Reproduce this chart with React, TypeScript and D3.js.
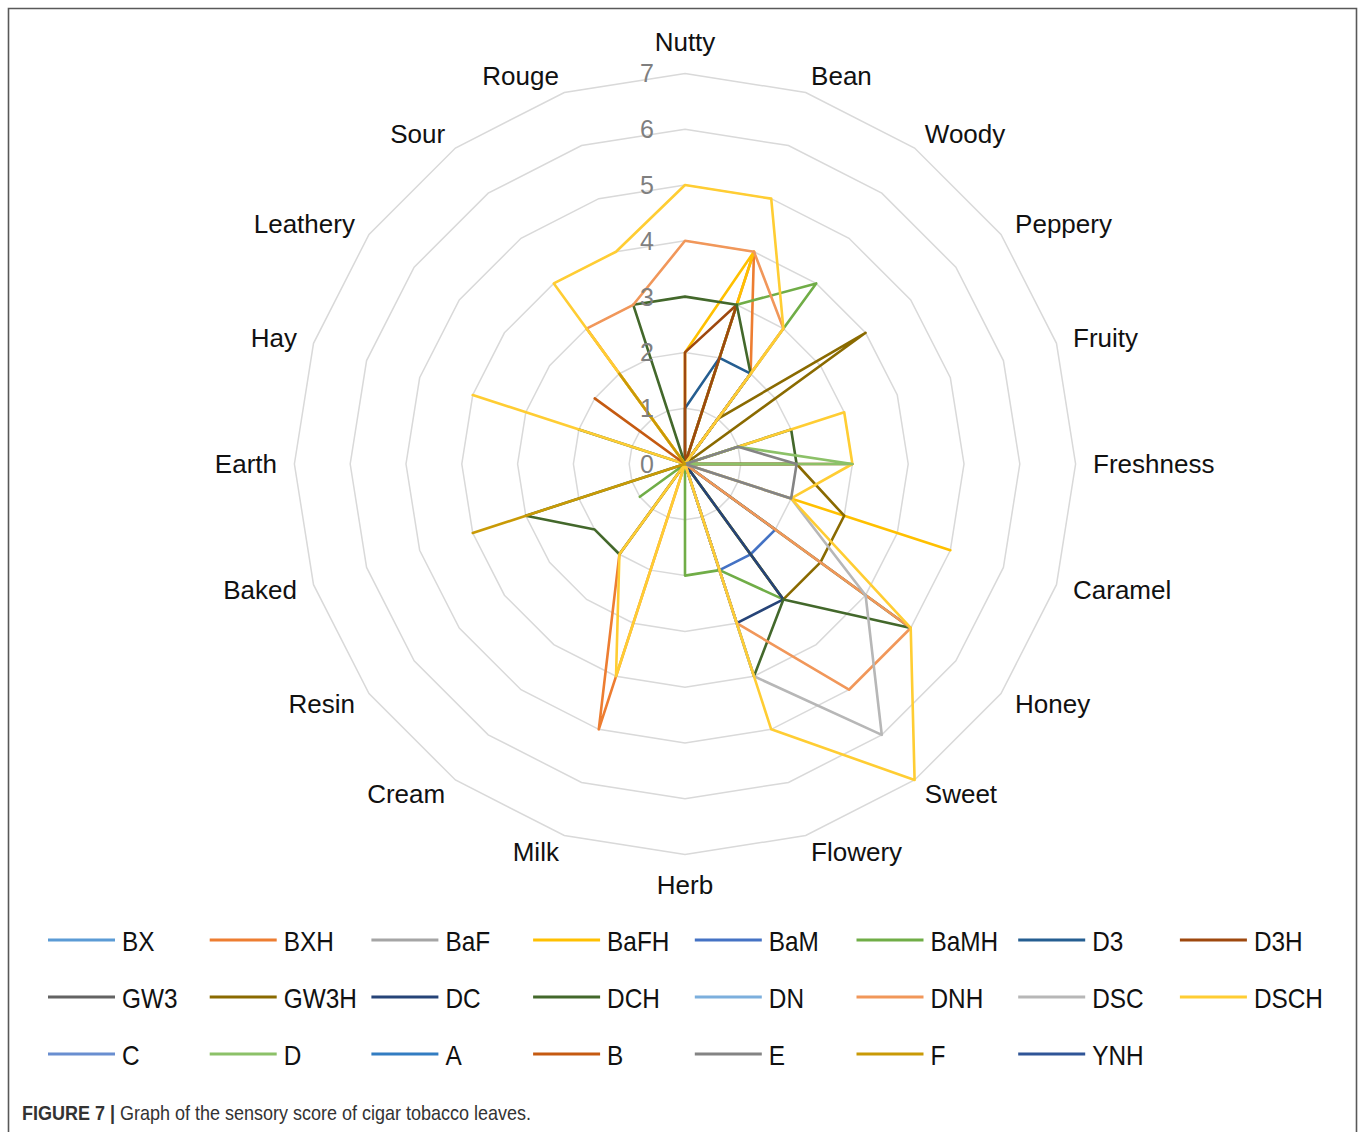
import React from 'react';
import * as d3 from 'd3';

const axes = ['Nutty', 'Bean', 'Woody', 'Peppery', 'Fruity', 'Freshness', 'Caramel', 'Honey', 'Sweet', 'Flowery', 'Herb', 'Milk', 'Cream', 'Resin', 'Baked', 'Earth', 'Hay', 'Leathery', 'Sour', 'Rouge'];
const ticks = [0, 1, 2, 3, 4, 5, 6, 7];

// Values per series, in axis order above
const BX = [0, 0, 0, 0, 0, 0, 0, 0, 0, 0, 0, 0, 0, 0, 0, 0, 0, 0, 0, 0];
const BXH = [0, 4, 2, 0, 0, 0, 0, 0, 0, 0, 0, 5, 2, 0, 0, 0, 0, 0, 0, 0];
const BaF = [0, 0, 0, 0, 0, 0, 0, 0, 0, 0, 0, 0, 0, 0, 0, 0, 0, 0, 0, 0];
const BaFH = [2, 4, 0, 0, 0, 0, 5, 0, 0, 0, 0, 0, 0, 0, 0, 0, 0, 0, 3, 0];
const BaM = [0, 0, 0, 0, 0, 0, 0, 2, 2, 2, 0, 0, 0, 0, 0, 0, 0, 0, 0, 0];
const BaMH = [0, 3, 4, 0, 0, 0, 0, 0, 3, 2, 2, 0, 0, 1, 0, 0, 0, 0, 0, 0];
const D3 = [1, 2, 2, 0, 0, 0, 0, 0, 0, 0, 0, 0, 0, 0, 0, 0, 0, 0, 0, 0];
const D3H = [2, 3, 0, 0, 0, 3, 0, 0, 0, 0, 0, 0, 0, 0, 0, 0, 0, 0, 0, 0];
const GW3 = [0, 0, 0, 0, 0, 0, 0, 0, 0, 0, 0, 0, 0, 0, 0, 0, 0, 0, 0, 0];
const GW3H = [0, 0, 1, 4, 0, 2, 3, 3, 3, 0, 0, 0, 0, 0, 0, 0, 0, 0, 0, 0];
const DC = [0, 0, 0, 0, 0, 0, 0, 0, 3, 3, 0, 0, 0, 0, 0, 0, 0, 0, 0, 0];
const DCH = [3, 3, 2, 0, 2, 2, 0, 5, 3, 4, 0, 0, 2, 2, 3, 0, 2, 0, 0, 3];
const DN = [0, 0, 0, 0, 0, 0, 0, 0, 0, 0, 0, 0, 0, 0, 0, 0, 0, 0, 0, 0];
const DNH = [4, 4, 3, 0, 0, 0, 0, 5, 5, 3, 0, 0, 0, 0, 0, 0, 0, 0, 3, 3];
const DSC = [0, 0, 0, 0, 0, 0, 2, 4, 6, 4, 0, 0, 0, 0, 0, 0, 0, 0, 0, 0];
const DSCH = [5, 5, 3, 0, 3, 3, 2, 5, 7, 5, 0, 4, 2, 0, 0, 0, 4, 0, 4, 4];
const C = [0, 0, 0, 0, 0, 0, 0, 0, 0, 0, 0, 0, 0, 0, 0, 0, 0, 0, 0, 0];
const D = [0, 0, 0, 0, 1, 3, 0, 0, 0, 0, 0, 0, 0, 0, 0, 0, 0, 0, 0, 0];
const A = [0, 0, 0, 0, 0, 0, 0, 0, 0, 0, 0, 0, 0, 0, 0, 0, 0, 0, 0, 0];
const B = [0, 0, 0, 0, 0, 0, 0, 0, 0, 0, 0, 0, 0, 0, 0, 0, 0, 2, 0, 0];
const E = [0, 0, 0, 0, 1, 2, 2, 0, 0, 0, 0, 0, 0, 0, 0, 0, 0, 0, 0, 0];
const F = [0, 0, 0, 0, 0, 0, 0, 0, 0, 0, 0, 0, 0, 0, 4, 0, 0, 0, 2, 0];
const YNH = [0, 0, 0, 0, 0, 0, 0, 0, 0, 0, 0, 0, 0, 0, 0, 0, 0, 0, 0, 0];

const seriesNames = ['BX', 'BXH', 'BaF', 'BaFH', 'BaM', 'BaMH', 'D3', 'D3H', 'GW3', 'GW3H', 'DC', 'DCH', 'DN', 'DNH', 'DSC', 'DSCH', 'C', 'D', 'A', 'B', 'E', 'F', 'YNH'];
const seriesValues = [BX, BXH, BaF, BaFH, BaM, BaMH, D3, D3H, GW3, GW3H, DC, DCH, DN, DNH, DSC, DSCH, C, D, A, B, E, F, YNH];
const seriesColors = ['#5B9BD5', '#ED7D31', '#A5A5A5', '#FFC000', '#4472C4', '#70AD47', '#255E91', '#9E480E', '#636363', '#8A6A00', '#264478', '#43682B', '#7CAFDD', '#F1975A', '#B7B7B7', '#FFCD33', '#698ED0', '#8CC168', '#327DC2', '#C55A11', '#848484', '#C99A06', '#2F5597'];

const W = 1360;
const H = 1132;
const cx = 685;
const cy = 464;
const R = 390.6;
const LABEL_R = 408;

export default function App() {
  const r = d3.scaleLinear().domain([0, 7]).range([0, R]);
  const n = axes.length;
  const angle = (i: number) => (i * 2 * Math.PI) / n;

  const lineGen = d3
    .lineRadial<number>()
    .angle((_, i) => angle(i))
    .radius((d) => r(d))
    .curve(d3.curveLinearClosed);

  const gridGen = (t: number) =>
    d3
      .lineRadial<string>()
      .angle((_, i) => angle(i))
      .radius(() => r(t))
      .curve(d3.curveLinearClosed)(axes);

  const legendCols = 8;
  const legendX0 = 48;
  const legendDX = 161.7;
  const legendY0 = 940;
  const legendDY = 57;

  return (
    <svg
      width={W}
      height={H}
      style={{ position: 'absolute', left: 0, top: 0, background: '#fff' }}
      xmlns="http://www.w3.org/2000/svg"
    >
      <rect x={0} y={0} width={W} height={H} fill="#fff" />
      {/* frame */}
      <path d={`M8.5,${H} V8.5 H1356.5 V${H}`} fill="none" stroke="#595959" strokeWidth={1.6} />

      <g transform={`translate(${cx},${cy})`}>
        {ticks.slice(1).map((t) => (
          <path key={t} d={gridGen(t) || ''} fill="none" stroke="#D9D9D9" strokeWidth={1.5} />
        ))}
        {seriesValues.map((vals, si) => (
          <path
            key={seriesNames[si]}
            d={lineGen(vals) || ''}
            fill="none"
            stroke={seriesColors[si]}
            strokeWidth={2.6}
            strokeLinejoin="round"
          />
        ))}
        {ticks.map((t) => (
          <text
            key={t}
            x={-31}
            y={-r(t)}
            textAnchor="end"
            dominantBaseline="central"
            fontFamily="'Liberation Sans', Arial, sans-serif"
            fontSize={25}
            fill="#7F7F7F"
          >
            {t}
          </text>
        ))}
        {axes.map((a, i) => {
          const th = angle(i);
          const s = Math.sin(th);
          const c = Math.cos(th);
          const x = LABEL_R * s;
          let y = -LABEL_R * c;
          let anchor: 'start' | 'middle' | 'end' = 'middle';
          if (s > 0.01) anchor = 'start';
          else if (s < -0.01) anchor = 'end';
          if (i === 0) y -= 14;
          if (i === n / 2) y += 13;
          return (
            <text
              key={a}
              x={x}
              y={y}
              textAnchor={anchor}
              dominantBaseline="central"
              fontFamily="'Liberation Sans', Arial, sans-serif"
              fontSize={26}
              fill="#111"
            >
              {a}
            </text>
          );
        })}
      </g>

      {/* legend */}
      {seriesNames.map((name, i) => {
        const col = i % legendCols;
        const row = Math.floor(i / legendCols);
        const x = legendX0 + col * legendDX;
        const y = legendY0 + row * legendDY;
        return (
          <g key={name}>
            <line x1={x} x2={x + 67} y1={y} y2={y} stroke={seriesColors[i]} strokeWidth={3} />
            <text
              transform={`translate(${x + 74},${y + 1}) scale(0.87,1)`}
              dominantBaseline="central"
              fontFamily="'Liberation Sans', Arial, sans-serif"
              fontSize={28}
              fill="#111"
            >
              {name}
            </text>
          </g>
        );
      })}

      {/* caption */}
      <text
        transform="translate(22,1120) scale(0.9,1)"
        fontFamily="'Liberation Sans', Arial, sans-serif"
        fontSize={20}
        fill="#333"
      >
        <tspan fontWeight="bold">FIGURE 7 |</tspan>
        <tspan> Graph of the sensory score of cigar tobacco leaves.</tspan>
      </text>
    </svg>
  );
}
